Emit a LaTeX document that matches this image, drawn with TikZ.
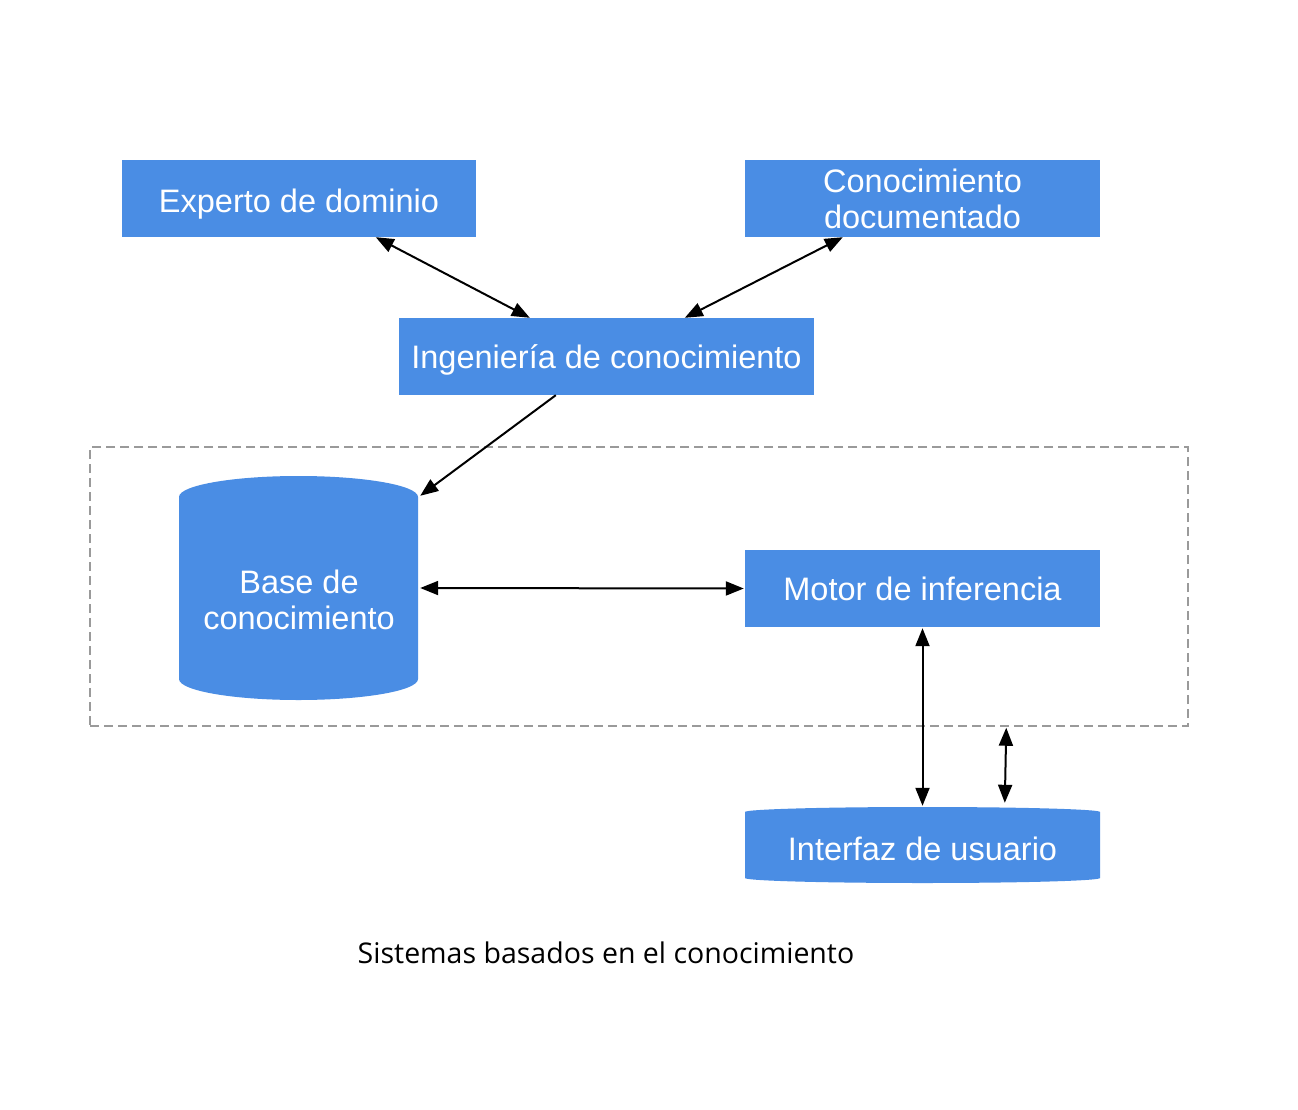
\documentclass[tikz,border=0pt]{standalone}
\usepackage{fontspec}
\setmainfont{Liberation Sans}
\newfontfamily\capfont{Open Sans}
\usetikzlibrary{arrows.meta,calc}
\definecolor{boxblue}{HTML}{4A8DE4}
\definecolor{dashgray}{HTML}{9A9A9A}
\tikzset{
  bluebox/.style={rectangle, fill=boxblue, inner sep=0pt, text=white,
    minimum width=355pt, minimum height=77pt, align=center,
    font=\fontsize{32.5}{36}\selectfont},
  ghost/.style={rectangle, inner sep=0pt, draw=none},
  bluetext/.style={text=white, align=center, font=\fontsize{32.5}{36.5}\selectfont, inner sep=0pt},
  conn/.style={line width=2pt, black},
  tipboth/.style={conn, {Triangle[length=18pt,width=14pt]}-{Triangle[length=18pt,width=14pt]}},
  tipend/.style={conn, -{Triangle[length=18pt,width=14pt]}},
}
\begin{document}
\begin{tikzpicture}[x=1pt,y=-1pt]
\useasboundingbox[fill=white] (0,0) rectangle (1298,1110);

% system dashed frame
\node[ghost, draw=dashgray, line width=1.5pt, dash pattern=on 9pt off 5pt,
      minimum width=1098pt, minimum height=279pt] (sys) at (639,586.5) {};

% boxes
\node[bluebox, minimum width=354pt, text height=27pt, text depth=0pt] (exp) at (299,198.5) {Experto de dominio};
\node[bluebox] (doc) at (922.5,198.5) {Conocimiento\\documentado};
\node[bluebox, minimum width=415pt, text height=23pt, text depth=0pt] (ing) at (606.5,356.5) {Ingenier\'ia de conocimiento};
\node[bluebox, text height=23pt, text depth=0pt] (mot) at (922.5,588.5) {Motor de inferencia};

% knowledge base cylinder
\fill[boxblue] (179,497) arc[start angle=180,end angle=0,x radius=119.5pt,y radius=21pt]
  -- (418,679) arc[start angle=0,end angle=-180,x radius=119.5pt,y radius=21pt] -- cycle;
\node[ghost, minimum width=239pt, minimum height=224pt] (base) at (298.5,588) {};
\node[bluetext] (basetxt) at (299,600) {Base de\\conocimiento};

% user interface
\fill[boxblue] (745,812) arc[start angle=180,end angle=0,x radius=177.5pt,y radius=5pt]
  -- (1100,878) arc[start angle=0,end angle=-180,x radius=177.5pt,y radius=5pt] -- cycle;
\node[ghost, minimum width=355pt, minimum height=76pt] (ui) at (922.5,845) {};
\node[bluetext, anchor=base] (uitxt) at (922.5,860) {Interfaz de usuario};

% caption
\node[anchor=base, inner sep=0pt, font=\capfont\fontsize{28.5}{34}\selectfont] (cap) at (606,963.5)
  {Sistemas basados en el conocimiento};

% connectors
\coordinate (sysport) at ([xshift=917pt,yshift=-1pt]sys.south west);
\draw[tipboth] ([xshift=254pt]exp.south west) -- ([xshift=131pt]ing.north west);
\draw[tipboth] ([xshift=98pt]doc.south west) -- ([xshift=286pt]ing.north west);
\draw[tipend] ([xshift=157pt]ing.south west) -- ([xshift=2pt,yshift=-20pt]base.north east);
\draw[tipboth] ([xshift=2pt]base.east) -- ([xshift=-1pt]mot.west);
\draw[tipboth] ([yshift=-1pt]mot.south) -- ([yshift=1pt]ui.north);
\draw[tipboth] (sysport) -- ([xshift=260pt,yshift=4pt]ui.north west);
\end{tikzpicture}
\end{document}
